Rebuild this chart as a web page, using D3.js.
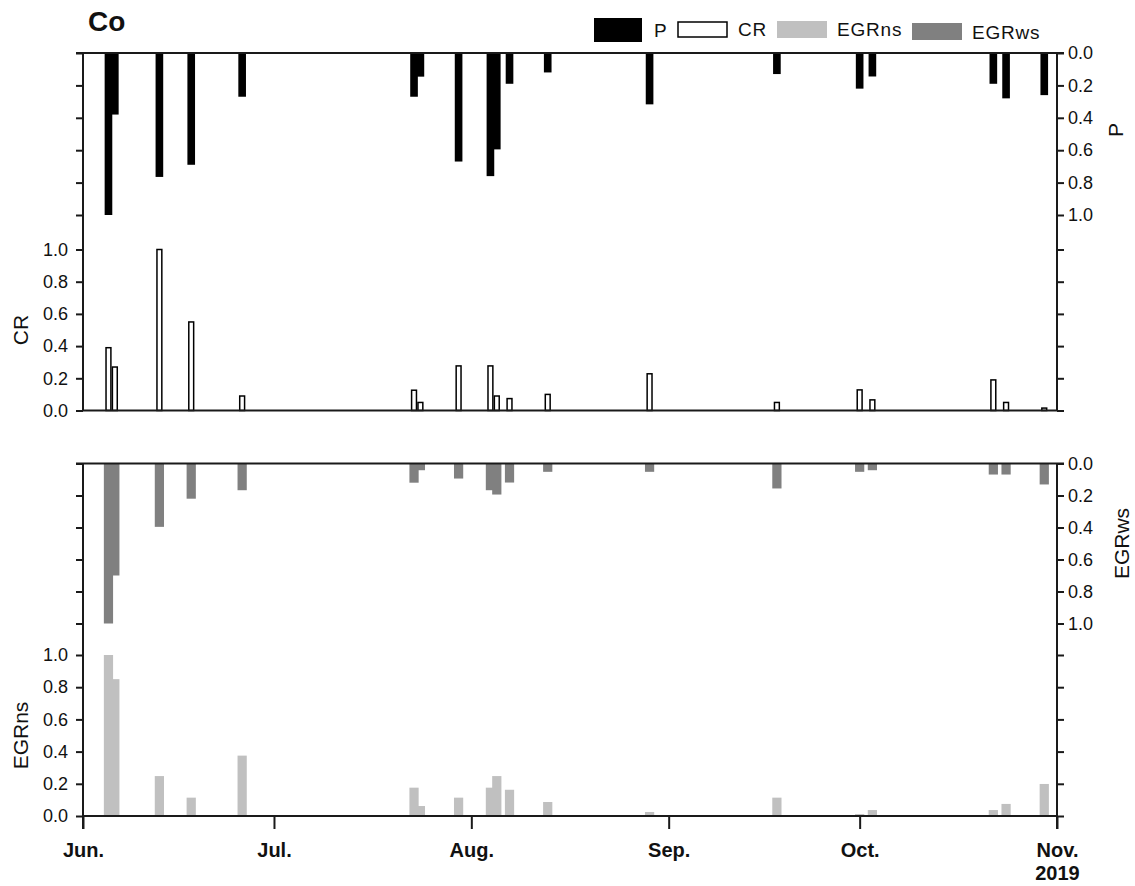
<!DOCTYPE html>
<html><head><meta charset="utf-8">
<script src="https://cdn.jsdelivr.net/npm/d3@7/dist/d3.min.js"></script>
<style>
body{margin:0;background:#fff;}
svg{display:block;}
text{font-family:"Liberation Sans",Arial,Helvetica,sans-serif;}
</style></head><body>
<svg id="chart" width="1135" height="886"></svg>
<script>
// ---------- data ----------
const dates = ["2019-06-05","2019-06-06","2019-06-13","2019-06-18","2019-06-26",
  "2019-07-23","2019-07-24","2019-07-30","2019-08-04","2019-08-05","2019-08-07",
  "2019-08-13","2019-08-29","2019-09-18","2019-10-01","2019-10-03","2019-10-22",
  "2019-10-24","2019-10-30"];
const P     = [1.00,0.38,0.765,0.69,0.27,0.27,0.146,0.67,0.76,0.595,0.19,0.12,0.317,0.13,0.22,0.145,0.19,0.28,0.26];
const CR    = [0.39,0.27,1.00,0.55,0.09,0.126,0.05,0.277,0.277,0.09,0.074,0.10,0.228,0.05,0.128,0.066,0.19,0.05,0.015];
const EGRws = [1.00,0.70,0.396,0.22,0.167,0.12,0.042,0.094,0.167,0.194,0.119,0.052,0.052,0.156,0.052,0.042,0.069,0.069,0.131];
const EGRns = [1.00,0.85,0.248,0.114,0.375,0.176,0.062,0.114,0.176,0.248,0.163,0.087,0.025,0.114,0.012,0.037,0.037,0.075,0.199];
const monthTicks  = ["2019-06-01","2019-07-01","2019-08-01","2019-09-01","2019-10-01","2019-11-01"];
const monthLabels = ["Jun.","Jul.","Aug.","Sep.","Oct.","Nov."];
const yearLabel = "2019";
const yTicks = [0,0.2,0.4,0.6,0.8,1.0];
const legendLabels = ["P","CR","EGRns","EGRws"];
const title = "Co";

// ---------- setup ----------
const parse = d3.timeParse("%Y-%m-%d");
const svg = d3.select("#chart");
const L = 83, R = 1057;
const x = d3.scaleTime().domain([parse(monthTicks[0]), parse(monthTicks[5])]).range([L, R]);
const yP  = d3.scaleLinear().domain([0,1]).range([53, 215]);
const yCR = d3.scaleLinear().domain([0,1]).range([410.5, 249.5]);
const yWs = d3.scaleLinear().domain([0,1]).range([463.5, 623.5]);
const yNs = d3.scaleLinear().domain([0,1]).range([816, 655]);
const day = x(parse("2019-06-02")) - x(parse("2019-06-01"));

const rows = dates.map((d,i)=>({date:parse(d), P:P[i], CR:CR[i], ws:EGRws[i], ns:EGRns[i]})).reverse();
const AX = "#1a1a1a";

// ---------- bars ----------
const wP = day*1.2, wE = day*1.45, wC = day;
svg.append("g").selectAll("rect").data(rows).join("rect")
  .attr("x", d=>x(d.date)-wP/2).attr("width", wP)
  .attr("y", yP(0)).attr("height", d=>yP(d.P)-yP(0)).attr("fill","#000");
svg.append("g").selectAll("rect").data(rows).join("rect")
  .attr("x", d=>x(d.date)-wC/2+0.75).attr("width", wC-1.5)
  .attr("y", d=>yCR(d.CR)).attr("height", d=>yCR(0)-yCR(d.CR))
  .attr("fill","#fff").attr("stroke","#000").attr("stroke-width",1.5);
svg.append("g").selectAll("rect").data(rows).join("rect")
  .attr("x", d=>x(d.date)-wE/2).attr("width", wE)
  .attr("y", yWs(0)).attr("height", d=>yWs(d.ws)-yWs(0)).attr("fill","#808080");
svg.append("g").selectAll("rect").data(rows).join("rect")
  .attr("x", d=>x(d.date)-wE/2).attr("width", wE)
  .attr("y", d=>yNs(d.ns)).attr("height", d=>yNs(0)-yNs(d.ns)).attr("fill","#c0c0c0");

// ---------- axes ----------
function styleAxis(g, fs){
  g.select(".domain").remove();
  g.attr("font-family",null).attr("font-size",null);
  g.selectAll(".tick line").attr("stroke",AX).attr("stroke-width",2);
  g.selectAll(".tick text").attr("font-size",fs).attr("fill","#111");
}
const fmt = d3.format(".1f");
function yAxis(side, scale, labeled, xpos){
  const gen = (side==="left"?d3.axisLeft(scale):d3.axisRight(scale))
    .tickValues(yTicks).tickSize(7).tickPadding(side==="left"?8:4)
    .tickFormat(labeled?fmt:"");
  const g = svg.append("g").attr("transform",`translate(${xpos},0)`).call(gen);
  styleAxis(g, 18);
}
yAxis("left", yCR, true, L);
yAxis("left", yP, false, L);
yAxis("right", yP, true, R);
yAxis("right", yCR, false, R);
yAxis("left", yNs, true, L);
yAxis("left", yWs, false, L);
yAxis("right", yWs, true, R);
yAxis("right", yNs, false, R);

const xg = svg.append("g").attr("transform",`translate(0,${yNs(0)})`)
  .call(d3.axisBottom(x).tickValues(monthTicks.map(parse)).tickSize(13).tickPadding(14)
    .tickFormat((d,i)=>monthLabels[i]));
styleAxis(xg, 20);
xg.selectAll(".tick text").attr("font-weight","bold");
xg.select(".tick:last-of-type").append("text")
  .attr("y", 64).attr("text-anchor","middle").attr("font-size",20).attr("font-weight","bold")
  .attr("fill","#111").text(yearLabel);

// frames
const frame = svg.append("g").attr("stroke",AX).attr("stroke-width",2).attr("fill","none");
frame.append("line").attr("x1",L-7).attr("x2",R+7).attr("y1",yP(0)).attr("y2",yP(0));
frame.append("line").attr("x1",L).attr("x2",R).attr("y1",yCR(0)).attr("y2",yCR(0));
frame.append("line").attr("x1",L).attr("x2",L).attr("y1",yP(0)).attr("y2",yCR(0));
frame.append("line").attr("x1",R).attr("x2",R).attr("y1",yP(0)).attr("y2",yCR(0));
frame.append("line").attr("x1",L-7).attr("x2",R+7).attr("y1",yWs(0)).attr("y2",yWs(0));
frame.append("line").attr("x1",L).attr("x2",R).attr("y1",yNs(0)).attr("y2",yNs(0));
frame.append("line").attr("x1",L).attr("x2",L).attr("y1",yWs(0)).attr("y2",yNs(0)+13);
frame.append("line").attr("x1",R).attr("x2",R).attr("y1",yWs(0)).attr("y2",yNs(0)+13);

// axis titles
function vtitle(txt, tx, ty){
  svg.append("text").attr("transform",`translate(${tx},${ty}) rotate(-90)`)
    .attr("text-anchor","middle").attr("font-size",21).attr("fill","#111").text(txt);
}
vtitle("CR", 28, (yCR(0)+yCR(1))/2);
vtitle("EGRns", 28, (yNs(0)+yNs(1))/2);
vtitle("P", 1123, (yP(0)+yP(1))/2 - 4);
vtitle("EGRws", 1129, (yWs(0)+yWs(1))/2);

// title
svg.append("text").attr("x",88).attr("y",31).attr("font-size",28).attr("font-weight","bold")
  .attr("fill","#111").text(title);

// legend
const leg = svg.append("g");
const legSpec = [
  {x:594, y:18, w:48, h:24, fill:"#000", stroke:"none", tx:654, ty:37},
  {x:678, y:22, w:49, h:15, fill:"#fff", stroke:"#000", tx:738, ty:36},
  {x:777, y:21, w:50, h:17, fill:"#c0c0c0", stroke:"none", tx:837, ty:36},
  {x:912, y:23, w:50, h:17, fill:"#808080", stroke:"none", tx:972, ty:39}
];
legSpec.forEach((s,i)=>{
  leg.append("rect").attr("x",s.x).attr("y",s.y).attr("width",s.w).attr("height",s.h)
    .attr("fill",s.fill).attr("stroke",s.stroke).attr("stroke-width",1.5);
  leg.append("text").attr("x",s.tx).attr("y",s.ty).attr("font-size",19)
    .attr("letter-spacing",0.8).attr("fill","#111").text(legendLabels[i]);
});
</script>
</body></html>
